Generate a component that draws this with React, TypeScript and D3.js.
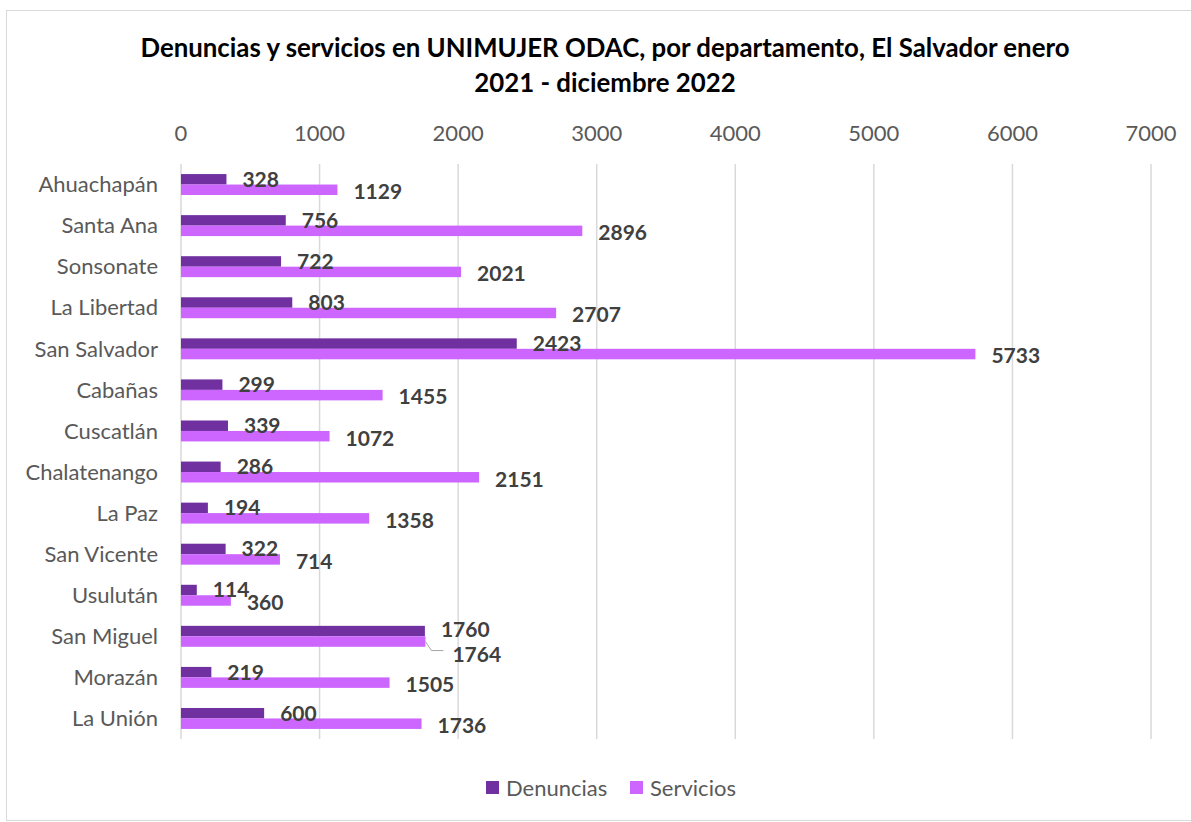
import React from "react";
import * as d3 from "d3";

const categories = ["Ahuachapán","Santa Ana","Sonsonate","La Libertad ","San Salvador","Cabañas","Cuscatlán","Chalatenango","La Paz","San Vicente","Usulután","San Miguel","Morazán","La Unión"];
const denuncias = [328,756,722,803,2423,299,339,286,194,322,114,1760,219,600];
const servicios = [1129,2896,2021,2707,5733,1455,1072,2151,1358,714,360,1764,1505,1736];
const xTicks = [0,1000,2000,3000,4000,5000,6000,7000];
const seriesNames = ["Denuncias","Servicios"];
const colors = ["#7030A0","#CC66FF"];

const W = 1191, H = 822;
const left = 181, right = 1151, top = 164, bottom = 739;

export default function App() {
  const x = d3.scaleLinear().domain([0, 7000]).range([left, right]);
  const y = d3.scaleBand().domain(categories).range([top, bottom]).paddingInner(0.49).paddingOuter(0.245);
  const sub = d3.scaleBand().domain(seriesNames).range([0, y.bandwidth()]);
  const font = "Lato, 'Open Sans', sans-serif";
  return (
    <svg width={W} height={H} style={{ position: "absolute", left: 0, top: 0 }} fontFamily={font}>
      <rect x={0} y={0} width={W} height={H} fill="#fff" />
      <rect x={6.5} y={10.5} width={W - 6} height={H - 12} fill="none" stroke="#D9D9D9" />
      <text x={605} y={57} textAnchor="middle" fontSize={25.8} fontWeight="bold" fill="#000">Denuncias y servicios en UNIMUJER ODAC, por departamento, El Salvador enero</text>
      <text x={605} y={92} textAnchor="middle" fontSize={25.8} fontWeight="bold" fill="#000">2021 - diciembre 2022</text>
      {xTicks.map(t => (
        <g key={t}>
          <line x1={x(t)} x2={x(t)} y1={top} y2={bottom} stroke="#D9D9D9" strokeWidth={1.5} />
          <text x={x(t)} y={141} textAnchor="middle" fontSize={22} fill="#595959">{t}</text>
        </g>
      ))}
      {categories.map((c, i) => {
        const y0 = y(c)!;
        const bh = sub.bandwidth();
        const yd = y0 + sub("Denuncias")!;
        const ys = y0 + sub("Servicios")!;
        const shift = c === "San Miguel";
        return (
          <g key={c}>
            <text x={158} y={y0 + y.bandwidth() / 2} dy="0.35em" textAnchor="end" fontSize={22} fill="#595959">{c}</text>
            <rect x={x(0)} y={yd} width={x(denuncias[i]) - x(0)} height={bh} fill={colors[0]} />
            <rect x={x(0)} y={ys} width={x(servicios[i]) - x(0)} height={bh} fill={colors[1]} />
            <text x={x(denuncias[i]) + 16} y={yd + bh / 2 - (shift ? 1 : 0)} dy="0.35em" fontSize={21} fontWeight="bold" fill="#404040">{denuncias[i]}</text>
            {shift && (
              <polyline points={`${x(servicios[i])},${ys + bh / 2} ${x(servicios[i]) + 6},${ys + bh / 2 + 9} ${x(servicios[i]) + 18},${ys + bh / 2 + 9}`} fill="none" stroke="#A6A6A6" strokeWidth={1} />
            )}
            <text x={x(servicios[i]) + (shift ? 27 : 16)} y={ys + bh / 2 + (shift ? 13 : 2)} dy="0.35em" fontSize={21} fontWeight="bold" fill="#404040">{servicios[i]}</text>
          </g>
        );
      })}
      {seriesNames.map((s, i) => (
        <g key={s} transform={`translate(${i === 0 ? 486 : 630},781)`}>
          <rect x={0} y={0} width={13} height={13} fill={colors[i]} />
          <text x={20} y={7} dy="0.35em" fontSize={22} fill="#595959">{s}</text>
        </g>
      ))}
    </svg>
  );
}
